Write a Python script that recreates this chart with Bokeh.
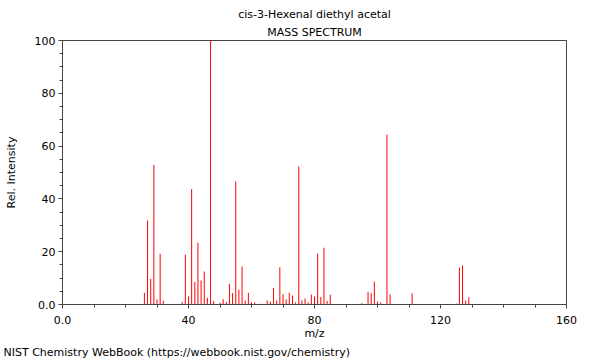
from bokeh.plotting import figure
from bokeh.models import FixedTicker, Range1d, ColumnDataSource, Title
from bokeh.embed import file_html
from bokeh.resources import INLINE

title_text = "cis-3-Hexenal diethyl acetal"
subtitle_text = "MASS SPECTRUM"
footer_text = "NIST Chemistry WebBook (https://webbook.nist.gov/chemistry)"

mz = [26, 27, 28, 29, 30, 31, 32, 38, 39, 40, 41, 42, 43, 44, 45, 46, 47, 48,
      50, 51, 52, 53, 54, 55, 56, 57, 58, 59, 60, 61, 63, 65, 66, 67, 68, 69,
      70, 71, 72, 73, 74, 75, 76, 77, 78, 79, 80, 81, 82, 83, 84, 85, 95, 97,
      98, 99, 100, 101, 103, 104, 111, 125, 126, 127, 128, 129]
intensity = [4.4, 31.8, 9.7, 52.9, 1.9, 19.2, 1.4, 0.9, 18.9, 3.0, 43.7, 8.5,
             23.4, 9.1, 12.5, 2.5, 100.0, 1.3, 0.7, 2.0, 1.0, 7.8, 4.3, 46.6,
             5.6, 14.4, 1.5, 4.4, 0.8, 0.8, 0.3, 1.5, 1.1, 6.3, 1.5, 14.1, 3.9,
             1.9, 4.5, 3.4, 0.8, 52.3, 1.6, 2.3, 0.8, 3.8, 3.0, 19.3, 2.8, 21.5,
             1.4, 3.7, 0.5, 4.7, 4.3, 8.7, 1.1, 0.8, 64.4, 3.8, 4.2, 0.4, 14.0,
             14.8, 1.5, 2.8]

x_ticks = [0, 40, 80, 120, 160]
x_tick_labels = ["0.0", "40", "80", "120", "160"]
x_minor = [10, 20, 30, 50, 60, 70, 90, 100, 110, 130, 140, 150]
y_ticks = [0, 20, 40, 60, 80, 100]
y_tick_labels = ["0.0", "20", "40", "60", "80", "100"]
y_minor = [v for v in range(0, 101, 5) if v % 20 != 0]

FONT = "DejaVu Sans"
FS = "11px"

p = figure(width=600, height=360, output_backend="svg", toolbar_location=None,
           x_range=Range1d(0, 160), y_range=Range1d(0, 100),
           min_border_left=62, min_border_right=34, min_border_top=40,
           min_border_bottom=56)
p.title.visible = False
p.grid.visible = False
p.outline_line_color = "#444444"
p.outline_line_width = 1

src = ColumnDataSource(dict(x=mz, y=intensity, y0=[0] * len(mz)))
p.segment(x0="x", y0="y0", x1="x", y1="y", source=src, line_color="#ff0000",
          line_width=1)

for ax, ticks, labels, minor in ((p.xaxis[0], x_ticks, x_tick_labels, x_minor),
                                 (p.yaxis[0], y_ticks, y_tick_labels, y_minor)):
    ax.ticker = FixedTicker(ticks=ticks, minor_ticks=minor)
    ax.major_label_overrides = {t: l for t, l in zip(ticks, labels)}
    ax.major_label_text_font = FONT
    ax.major_label_text_font_size = FS
    ax.major_label_text_color = "#000000"
    ax.axis_label_text_font = FONT
    ax.axis_label_text_font_size = FS
    ax.axis_label_text_font_style = "normal"
    ax.axis_label_text_color = "#000000"
    ax.axis_line_color = "#444444"
    ax.major_tick_line_color = "#444444"
    ax.minor_tick_line_color = "#444444"
    ax.major_tick_in = 0
    ax.major_tick_out = 4
    ax.minor_tick_in = 0
    ax.minor_tick_out = 3

p.yaxis.major_label_standoff = 3
p.xaxis.major_label_standoff = 7
p.xaxis.axis_label = "m/z"
p.xaxis.axis_label_standoff = 0
p.yaxis.axis_label = "Rel. Intensity"
p.yaxis.axis_label_standoff = 14


def mk_title(text, align="center", standoff=2, offset=0):
    return Title(text=text, align=align, text_font=FONT, text_font_size=FS,
                 text_font_style="normal", text_color="#000000",
                 standoff=standoff, offset=offset)


p.add_layout(mk_title(subtitle_text, standoff=4), "above")
p.add_layout(mk_title(title_text, standoff=2), "above")
p.add_layout(mk_title(footer_text, align="left", standoff=2, offset=-59), "below")

open("out.html", "w").write(file_html(p, INLINE))
